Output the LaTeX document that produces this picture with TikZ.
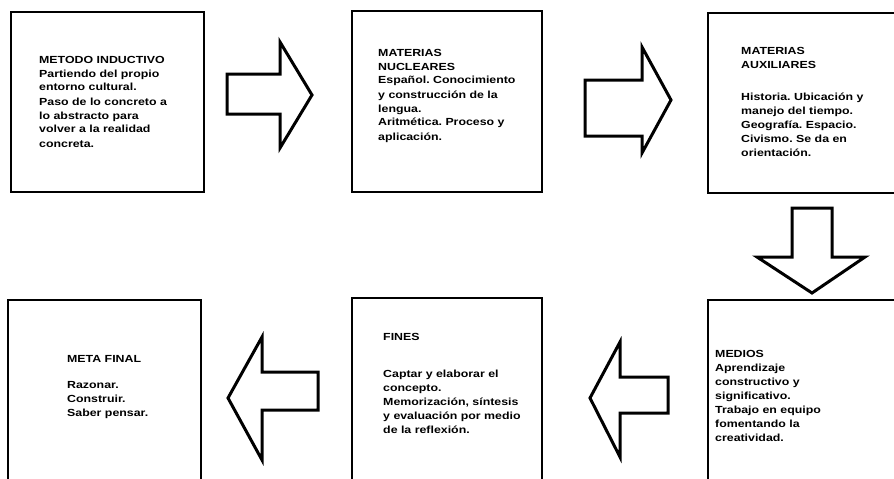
\documentclass[tikz,border=0pt]{standalone}
\usepackage{fontspec}
\newfontfamily\scanfont{Liberation Sans}[FakeStretch=1.2]
\frenchspacing
\begin{document}
\begin{tikzpicture}[x=1pt, y=-1pt,
    frame/.style={line width=1.8pt},
    blockarrow/.style={line width=3pt, line join=miter, fill=white},
    boxtext/.style={anchor=base west, inner sep=0pt, text width=180pt, align=left,
        font=\scanfont\bfseries\fontsize{10.3}{14}\selectfont}]
    \useasboundingbox (0,0) rectangle (894,479);
    \clip (0,0) rectangle (894,479);
    % boxes
    \draw [frame] (11,12) rectangle (204,192);
    \draw [frame] (352,11) rectangle (542,192);
    \draw [frame] (708,13) rectangle (910,193);
    \draw [frame] (8,300) rectangle (201,500);
    \draw [frame] (352,298) rectangle (542,500);
    \draw [frame] (708,300) rectangle (910,500);
    % texts
    \node [boxtext] (inductivo) at (39,63) {METODO INDUCTIVO\\
        Partiendo del propio\\ entorno cultural.\\ Paso de lo concreto a\\
        lo abstracto para\\ volver a la realidad\\ concreta.};
    \node [boxtext] (nucleares) at (378,56) {MATERIAS\\ NUCLEARES\\
        Español. Conocimiento\\ y construcción de la\\ lengua.\\
        Aritmética. Proceso y\\ aplicación.};
    \node [boxtext] (auxiliares) at (741,54) {MATERIAS\\ AUXILIARES\\[18pt]
        Historia. Ubicación y\\ manejo del tiempo.\\ Geografía. Espacio.\\
        Civismo. Se da en\\ orientación.};
    \node [boxtext] (medios) at (715,357) {MEDIOS\\ Aprendizaje\\
        constructivo y\\ significativo.\\ Trabajo en equipo\\
        fomentando la\\ creatividad.};
    \node [boxtext] (fines) at (383,340) {FINES\\[23pt]
        Captar y elaborar el\\ concepto.\\ Memorización, síntesis\\
        y evaluación por medio\\ de la reflexión.};
    \node [boxtext] (meta) at (67,362) {META FINAL\\[12pt]
        Razonar.\\ Construir.\\ Saber pensar.};
    % arrows
    \draw [blockarrow] (227,74) -- (280,74) -- (280,42) -- (312,95)
        -- (280,148) -- (280,114) -- (227,114) -- cycle;
    \draw [blockarrow] (585,80) -- (642,80) -- (642,47) -- (671,100)
        -- (642,153) -- (642,136) -- (585,136) -- cycle;
    \draw [blockarrow] (792,208) -- (792,257) -- (757,257) -- (812,293)
        -- (865,257) -- (832,257) -- (832,208) -- cycle;
    \draw [blockarrow] (668,377) -- (620,377) -- (620,342) -- (590,398)
        -- (620,457) -- (620,413) -- (668,413) -- cycle;
    \draw [blockarrow] (318,372) -- (262,372) -- (262,337) -- (228,398)
        -- (262,460) -- (262,410) -- (318,410) -- cycle;
\end{tikzpicture}
\end{document}
